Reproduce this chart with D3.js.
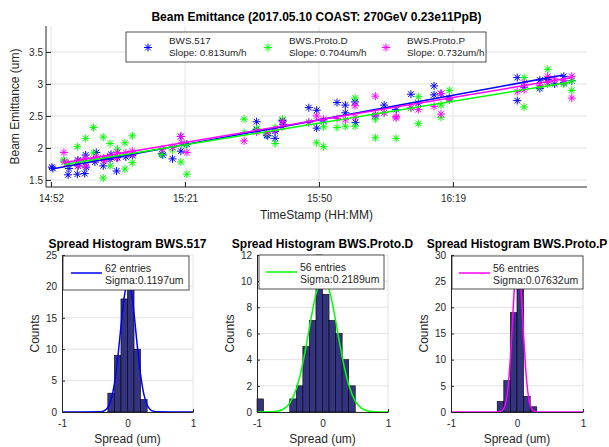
<!DOCTYPE html>
<html>
<head>
<meta charset="utf-8">
<script src="https://cdn.jsdelivr.net/npm/d3@7"></script>
<style>
body { margin: 0; background: #fff; }
text { font-family: "Liberation Sans", Arial, sans-serif; }
</style>
</head>
<body>
<div id="chart"></div>
<script>
// --- top plot: minutes after 14:52 and emittance in um ---
var t517 = [0.2,0.4,3.7,3.9,5.7,5.8,5.9,7.3,7.5,7.6,9.8,9.5,11.3,11.5,13.0,12.8,14.2,14.4,16.2,17.6,
            24.0,24.2,26.3,28.1,28.1,29.4,44.5,44.5,46.7,46.9,48.5,48.5,50.1,50.3,55.8,57.5,57.5,59.0,
            61.9,63.7,63.7,65.8,65.9,70.2,72.1,74.7,77.9,79.5,82.9,82.9,84.4,86.2,100.9,100.9,102.4,
            105.8,105.8,107.5,111.0,111.0,112.7,109.0];
var v517 = [1.70,1.68,1.58,1.68,1.59,1.81,1.72,1.60,1.89,1.70,1.93,1.78,1.72,1.83,1.90,1.82,1.64,1.85,1.86,1.88,
            1.91,1.89,1.83,2.18,1.95,2.06,2.41,2.29,2.20,2.19,2.26,2.15,2.43,2.37,2.63,2.59,2.31,2.42,
            2.71,2.67,2.55,2.72,2.40,2.50,2.67,2.60,2.84,2.70,2.97,2.83,2.85,2.78,3.10,2.74,2.95,
            2.93,3.06,3.07,3.02,3.12,3.05,3.00];

var tProtoD = [2.8,2.9,5.7,7.5,9.2,9.2,11.3,11.3,12.8,12.8,14.4,16.0,16.0,17.6,17.6,28.1,29.4,29.0,
               41.8,41.8,48.5,48.5,50.1,46.7,57.5,59.0,59.0,61.9,63.7,65.8,65.8,70.2,70.2,74.7,72.1,55.8,
               79.5,79.5,84.4,84.4,86.2,86.2,102.4,102.4,107.5,107.5,112.7,112.7,105.8,111.0,44.5,24.0,
               26.3,7.3,3.7,77.9];
var vProtoD = [1.81,1.79,2.02,2.15,2.32,1.92,2.17,1.53,2.07,1.72,1.98,2.08,1.67,2.19,1.77,1.78,1.59,2.05,
               2.45,2.24,2.32,2.07,2.45,2.22,2.08,2.02,2.33,2.32,2.34,2.34,2.78,2.45,2.16,2.15,2.55,2.40,
               2.80,2.38,2.67,2.48,2.90,2.75,3.10,2.64,3.23,3.00,2.90,3.05,2.95,3.00,2.30,1.90,
               1.97,1.80,1.75,2.62];

var tProtoP = [2.8,2.9,5.8,5.9,7.5,7.5,9.2,9.8,11.3,11.5,12.8,14.4,14.2,16.2,17.6,17.7,24.0,26.3,28.1,28.3,
               29.4,41.8,44.5,46.7,48.5,50.1,50.0,55.8,57.5,59.0,61.9,63.7,65.8,65.8,70.2,70.2,74.7,74.7,
               72.1,79.5,84.4,84.4,86.2,82.9,100.9,102.4,102.4,105.8,107.5,107.5,111.0,112.7,112.7,109.0,
               77.9,3.7];
var vProtoP = [1.93,1.78,1.72,1.80,1.84,1.72,1.82,1.86,1.84,1.80,1.87,1.93,1.84,1.92,1.95,1.90,1.98,2.01,2.18,2.08,
               1.93,2.11,2.25,2.24,2.28,2.41,2.33,2.40,2.50,2.45,2.46,2.44,2.66,2.48,2.81,2.52,2.49,2.47,
               2.55,2.60,2.85,2.53,2.76,2.65,2.88,2.91,3.02,2.98,3.02,3.12,3.05,3.12,2.78,3.08,
               2.63,1.76];

// fit line end points (minutes, um)
var fitT517 = [0.2, 110.8],    fitV517 = [1.67, 3.14];
var fitTProtoD = [2.8, 112.6], fitVProtoD = [1.74, 3.03];
var fitTProtoP = [2.8, 112.7], fitVProtoP = [1.77, 3.10];

var seriesNames = ["BWS.517", "BWS.Proto.D", "BWS.Proto.P"];
var slopeLabels = ["Slope: 0.813um/h", "Slope: 0.704um/h", "Slope: 0.732um/h"];
var xTickLabels = ["14:52", "15:21", "15:50", "16:19"];
var yTickValues = [1.5, 2, 2.5, 3, 3.5];

// --- histograms: bin centres (um) and counts ---
var bins517 = [-0.25,-0.15,-0.05,0.05,0.15,0.25];
var counts517 = [3,9,18,20,10,2];
var binsProtoD = [-0.95,-0.45,-0.35,-0.25,-0.15,-0.05,0.05,0.15,0.25,0.35,0.45];
var countsProtoD = [1,1,2,5,7,12,9,7,6,4,2];
var binsProtoP = [-0.25,-0.15,-0.05,0.05,0.15,0.25];
var countsProtoP = [2,6,19,25,3,1];

// gaussian fit curves
var gx517 = [-1,-0.45,-0.4,-0.35,-0.3,-0.25,-0.2,-0.15,-0.1,-0.05,0,0.05,0.1,0.15,0.2,0.25,0.3,0.35,0.4,0.45,1];
var gy517 = [0,0.02,0.06,0.23,0.73,1.98,4.48,8.51,13.6,18.3,20.6,19.6,15.6,10.5,5.91,2.80,1.12,0.37,0.11,0.02,0];
var gxProtoD = [-1,-0.8,-0.7,-0.6,-0.5,-0.4,-0.35,-0.3,-0.25,-0.2,-0.15,-0.1,-0.05,0,0.05,0.1,0.15,0.2,0.25,0.3,0.35,0.4,0.5,0.6,0.7,0.8,1];
var gyProtoD = [0,0.01,0.05,0.21,0.68,1.76,2.64,3.74,5.04,6.44,7.81,8.99,9.82,10.2,10.03,9.37,8.31,7.0,5.59,4.24,3.05,2.08,0.83,0.27,0.07,0.02,0];
var gxProtoP = [-1,-0.3,-0.25,-0.2,-0.175,-0.15,-0.125,-0.1,-0.075,-0.05,-0.025,0,0.025,0.05,0.075,0.1,0.125,0.15,0.175,0.2,0.25,0.3,1];
var gyProtoP = [0,0.01,0.09,0.66,1.55,3.25,6.12,10.35,15.7,21.5,26.4,29.0,28.7,25.5,20.4,14.6,9.41,5.44,2.83,1.32,0.21,0.02,0];

var histTitles = ["Spread Histogram BWS.517", "Spread Histogram BWS.Proto.D", "Spread Histogram BWS.Proto.P"];
var histEntries = ["62 entries", "56 entries", "56 entries"];
var histSigmas = ["Sigma:0.1197um", "Sigma:0.2189um", "Sigma:0.07632um"];

var colors = ["#0000ff", "#00ff00", "#ff00ff"];
var axisColor = "#262626", gridColor = "#e3e3e3";

var svg = d3.select("#chart").append("svg").attr("width", 609).attr("height", 447);

var t0 = new Date(2017, 4, 10, 14, 52, 0);
function mt(m) { return new Date(t0.getTime() + m * 60000); }
var parseHM = d3.timeParse("%Y-%m-%d %H:%M");

// ---------------- top plot ----------------
var L = 46, R = 587, T = 26, B = 187;
var x = d3.scaleTime().domain([mt(-1.08), mt(116)]).range([L, R]);
var y = d3.scaleLinear().domain([1.39, 3.906]).range([B, T]);
var xTicks = xTickLabels.map(function(s) { return parseHM("2017-05-10 " + s); });

var grid = svg.append("g");
xTicks.forEach(function(d) {
  grid.append("line").attr("x1", x(d)).attr("x2", x(d)).attr("y1", T).attr("y2", B)
    .attr("stroke", gridColor);
});
yTickValues.forEach(function(d) {
  grid.append("line").attr("x1", L).attr("x2", R).attr("y1", y(d)).attr("y2", y(d))
    .attr("stroke", gridColor);
});

function star(g, cx, cy, r, col) {
  var d = "M" + (cx - r) + "," + cy + "h" + (2 * r) +
          "M" + cx + "," + (cy - r) + "v" + (2 * r);
  var k = r * 0.72;
  d += "M" + (cx - k) + "," + (cy - k) + "l" + (2 * k) + "," + (2 * k) +
       "M" + (cx - k) + "," + (cy + k) + "l" + (2 * k) + "," + (-2 * k);
  g.append("path").attr("d", d).attr("stroke", col).attr("stroke-width", 1).attr("fill", "none");
}

var allT = [t517, tProtoD, tProtoP], allV = [v517, vProtoD, vProtoP];
var marks = svg.append("g");
allT.forEach(function(ts, i) {
  ts.forEach(function(tm, j) { star(marks, x(mt(tm)), y(allV[i][j]), 4, colors[i]); });
});

var fits = [[fitT517, fitV517], [fitTProtoD, fitVProtoD], [fitTProtoP, fitVProtoP]];
var line = d3.line().x(function(d) { return x(mt(d[0])); }).y(function(d) { return y(d[1]); });
fits.forEach(function(f, i) {
  svg.append("path").datum(d3.zip(f[0], f[1])).attr("d", line)
    .attr("stroke", colors[i]).attr("stroke-width", 1.5).attr("fill", "none");
});

function styleAxis(g) {
  g.select(".domain").attr("stroke", axisColor);
  g.selectAll(".tick line").attr("stroke", axisColor);
  g.selectAll(".tick text").attr("fill", axisColor).style("font-size", "10px")
    .style("font-family", "'Liberation Sans', Arial, sans-serif");
}

svg.append("g").attr("transform", "translate(0," + B + ")")
  .call(d3.axisBottom(x).tickValues(xTicks).tickFormat(d3.timeFormat("%H:%M"))
    .tickSize(-5).tickSizeOuter(0).tickPadding(8))
  .call(styleAxis)
  .select(".domain").attr("d", "M" + L + ",0H" + R);
svg.append("g").attr("transform", "translate(" + L + ",0)")
  .call(d3.axisLeft(y).tickValues(yTickValues).tickFormat(function(d) { return String(d); })
    .tickSize(-5).tickSizeOuter(0).tickPadding(3))
  .call(styleAxis)
  .select(".domain").attr("d", "M0," + T + "V" + B);

svg.append("text").attr("x", (L + R) / 2).attr("y", 21).attr("text-anchor", "middle")
  .style("font-size", "12px").style("font-weight", "bold").attr("fill", "#000")
  .text("Beam Emittance (2017.05.10 COAST: 270GeV 0.23e11PpB)");
svg.append("text").attr("x", (L + R) / 2).attr("y", 219).attr("text-anchor", "middle")
  .style("font-size", "12px").attr("fill", axisColor).text("TimeStamp (HH:MM)");
svg.append("text").attr("transform", "translate(19," + ((T + B) / 2) + ") rotate(-90)")
  .attr("text-anchor", "middle").style("font-size", "12px").attr("fill", axisColor)
  .text("Beam Emittance (um)");

// legend
var lg = svg.append("g");
lg.append("rect").attr("x", 126).attr("y", 32).attr("width", 360).attr("height", 30)
  .attr("fill", "#fff").attr("stroke", axisColor).attr("stroke-width", 0.8);
[148, 268, 386].forEach(function(mx, i) {
  star(lg, mx, 47.5, 4, colors[i]);
  lg.append("text").attr("x", mx + 21).attr("y", 44.3).style("font-size", "9.9px")
    .attr("fill", axisColor).text(seriesNames[i]);
  lg.append("text").attr("x", mx + 21).attr("y", 55.8).style("font-size", "9.9px")
    .attr("fill", axisColor).text(slopeLabels[i]);
});

// ---------------- histograms ----------------
var hists = [
  { l: 62, r: 193, ymax: 25, yt: [0,5,10,15,20,25], bins: bins517, counts: counts517, gx: gx517, gy: gy517,
    leg: [63, 256, 126, 34], lx: 71 },
  { l: 257, r: 388, ymax: 12, yt: [0,2,4,6,8,10,12], bins: binsProtoD, counts: countsProtoD, gx: gxProtoD, gy: gyProtoD,
    leg: [259, 255, 125, 34], lx: 266 },
  { l: 451, r: 583, ymax: 30, yt: [0,5,10,15,20,25,30], bins: binsProtoP, counts: countsProtoP, gx: gxProtoP, gy: gyProtoP,
    leg: [452, 256, 131, 33], lx: 459 }
];
var HT = 255, HB = 412;

hists.forEach(function(h, i) {
  var hx = d3.scaleLinear().domain([-1, 1]).range([h.l, h.r]);
  var hy = d3.scaleLinear().domain([0, h.ymax]).range([HB, HT]);
  var g = svg.append("g");

  h.yt.forEach(function(d) {
    g.append("line").attr("x1", h.l).attr("x2", h.r).attr("y1", hy(d)).attr("y2", hy(d)).attr("stroke", gridColor);
  });
  [0, 1].forEach(function(d) {
    g.append("line").attr("x1", hx(d)).attr("x2", hx(d)).attr("y1", HT).attr("y2", HB).attr("stroke", gridColor);
  });

  g.selectAll("rect.bar").data(d3.zip(h.bins, h.counts)).enter().append("rect")
    .attr("x", function(d) { return hx(d[0] - 0.05); })
    .attr("width", function(d) { return hx(d[0] + 0.05) - hx(d[0] - 0.05); })
    .attr("y", function(d) { return hy(d[1]); })
    .attr("height", function(d) { return hy(0) - hy(d[1]); })
    .attr("fill", "#333380").attr("stroke", "#000").attr("stroke-width", 0.6);

  var gl = d3.line().x(function(d) { return hx(d[0]); }).y(function(d) { return hy(d[1]); })
    .curve(d3.curveMonotoneX);
  g.append("path").datum(d3.zip(h.gx, h.gy)).attr("d", gl)
    .attr("stroke", colors[i]).attr("stroke-width", 1.5).attr("fill", "none");

  g.append("g").attr("transform", "translate(0," + HB + ")")
    .call(d3.axisBottom(hx).tickValues([-1, 0, 1]).tickFormat(function(d) { return String(d); })
      .tickSize(-3).tickSizeOuter(0).tickPadding(8))
    .call(styleAxis);
  g.append("g").attr("transform", "translate(" + h.l + ",0)")
    .call(d3.axisLeft(hy).tickValues(h.yt).tickFormat(function(d) { return String(d); })
      .tickSize(-3).tickSizeOuter(0).tickPadding(5))
    .call(styleAxis);

  g.append("text").attr("x", (h.l + h.r) / 2).attr("y", 248).attr("text-anchor", "middle")
    .style("font-size", "12px").style("font-weight", "bold").attr("fill", "#000").text(histTitles[i]);
  g.append("text").attr("x", (h.l + h.r) / 2).attr("y", 443).attr("text-anchor", "middle")
    .style("font-size", "12px").attr("fill", axisColor).text("Spread (um)");
  g.append("text").attr("transform", "translate(" + (h.l - 23) + "," + ((HT + HB) / 2) + ") rotate(-90)")
    .attr("text-anchor", "middle").style("font-size", "12px").attr("fill", axisColor).text("Counts");

  var b = h.leg;
  g.append("rect").attr("x", b[0]).attr("y", b[1]).attr("width", b[2]).attr("height", b[3])
    .attr("fill", "#fff").attr("stroke", axisColor).attr("stroke-width", 0.8);
  g.append("line").attr("x1", h.lx).attr("x2", h.lx + 31).attr("y1", b[1] + 17).attr("y2", b[1] + 17)
    .attr("stroke", colors[i]).attr("stroke-width", 1.5);
  g.append("text").attr("x", h.lx + 34).attr("y", b[1] + 15.5).style("font-size", "10.5px")
    .attr("fill", axisColor).text(histEntries[i]);
  g.append("text").attr("x", h.lx + 34).attr("y", b[1] + 28).style("font-size", "10.5px")
    .attr("fill", axisColor).text(histSigmas[i]);
});
</script>
</body>
</html>
